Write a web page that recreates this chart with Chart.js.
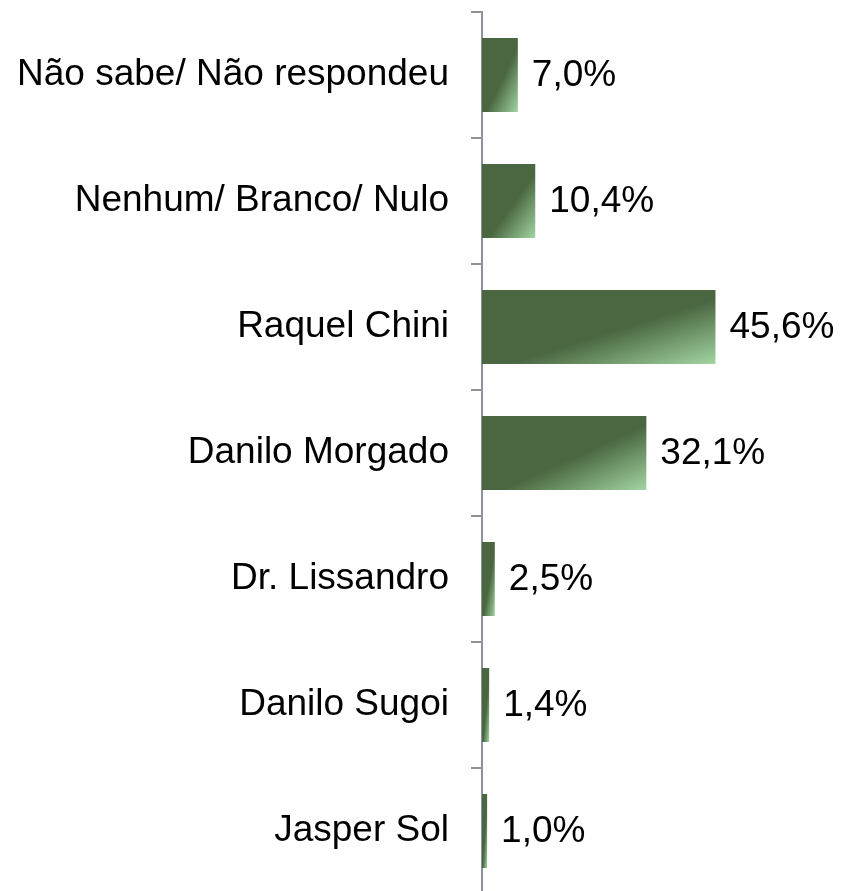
<!DOCTYPE html>
<html>
<head>
<meta charset="utf-8">
<script src="https://cdn.jsdelivr.net/npm/chart.js@4/dist/chart.umd.min.js"></script>
<style>
  html, body { margin: 0; padding: 0; background: #fff; overflow: hidden; }
</style>
</head>
<body>
<canvas id="chart" width="842" height="894"></canvas>
<script>
// valores da pesquisa (%)
const candidatos = ["Não sabe/ Não respondeu", "Nenhum/ Branco/ Nulo", "Raquel Chini", "Danilo Morgado", "Dr. Lissandro", "Danilo Sugoi", "Jasper Sol"];
const percentuais = [7.0, 10.4, 45.6, 32.1, 2.5, 1.4, 1.0];

const FONT = "Arial, 'Liberation Sans', sans-serif";

// gradiente tipo Office: escala com o retângulo da barra
function barGradient(context) {
    const chart = context.chart;
    if (!chart.chartArea || context.type !== "data") return "#4a6741";
    const xs = chart.scales.x, ys = chart.scales.y;
    const x0 = xs.getPixelForValue(0);
    const x1 = xs.getPixelForValue(context.raw);
    const w = Math.max(x1 - x0, 1);
    const h = 74;
    const top = ys.getPixelForValue(context.dataIndex) - h / 2;
    const k = 2 * w * h / (w * w + h * h);
    const g = chart.ctx.createLinearGradient(x0, top, x0 + h * k, top + w * k);
    g.addColorStop(0, "#4a6741");
    g.addColorStop(0.56, "#4a6741");
    g.addColorStop(1, "#a2d5a2");
    return g;
}

const rotulos = {
    id: "rotulos",
    afterDatasetsDraw(chart) {
        const ctx = chart.ctx;
        const meta = chart.getDatasetMeta(0);
        ctx.save();
        ctx.font = "37px " + FONT;
        ctx.fillStyle = "#000";
        ctx.textBaseline = "middle";
        ctx.textAlign = "left";
        meta.data.forEach((bar, i) => {
            const txt = percentuais[i].toFixed(1).replace(".", ",") + "%";
            ctx.fillText(txt, bar.x + 14, bar.y + 1);
        });
        ctx.restore();
    }
};

new Chart(document.getElementById("chart"), {
    type: "bar",
    data: {
        labels: candidatos,
        datasets: [{
            data: percentuais,
            backgroundColor: barGradient,
            borderWidth: 0,
            categoryPercentage: 1,
            barPercentage: 0.587
        }]
    },
    options: {
        indexAxis: "y",
        responsive: false,
        animation: false,
        layout: { padding: { top: 12, right: 104, bottom: 0, left: 0 } },
        plugins: {
            legend: { display: false },
            tooltip: { enabled: false }
        },
        scales: {
            x: {
                display: false,
                min: 0,
                max: 50
            },
            y: {
                afterFit(scale) {
                    scale.width = 482;
                    scale.paddingTop = 0;
                    scale.paddingBottom = 0;
                },
                border: { display: true, color: "#8c939c", width: 2 },
                grid: {
                    offset: true,
                    drawOnChartArea: false,
                    drawTicks: true,
                    tickLength: 11,
                    color: "#8c939c",
                    lineWidth: 2
                },
                ticks: {
                    padding: 22,
                    color: "#000",
                    font: { family: FONT, size: 37 }
                }
            }
        }
    },
    plugins: [rotulos]
});
</script>
</body>
</html>
